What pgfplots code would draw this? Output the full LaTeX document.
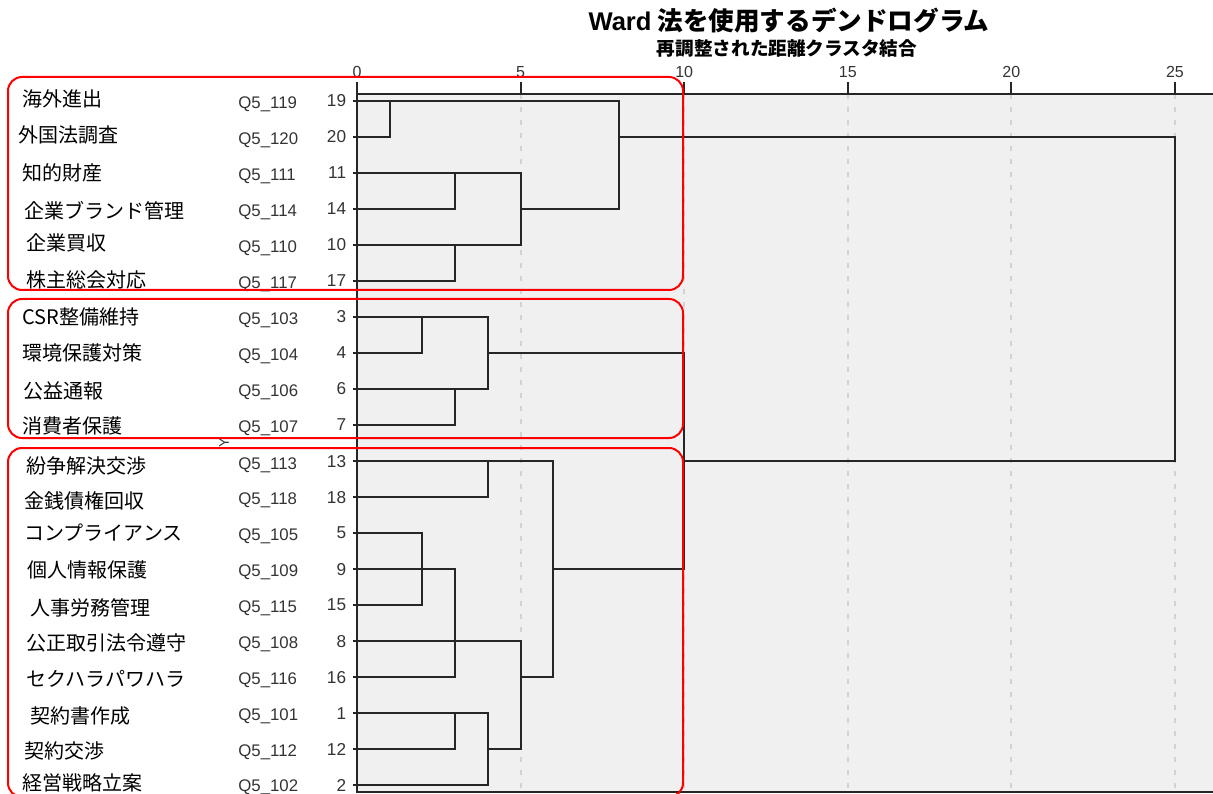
\documentclass[border=0pt]{standalone}
\usepackage{fontspec}
\setmainfont{Liberation Sans}
\newfontfamily\cjk{Noto Sans CJK JP}
\usepackage{pgfplots}
\pgfplotsset{compat=1.18}
\definecolor{bg}{HTML}{F0F0F0}
\definecolor{ln}{HTML}{262626}
\definecolor{gridc}{HTML}{D2D2D2}
\definecolor{txt}{HTML}{333333}
\begin{document}
\begin{tikzpicture}[x=0.5pt,y=0.5pt]
\useasboundingbox (0,0) rectangle (1213,793);
\clip (0,0) rectangle (1213,793);
\begin{axis}[
  at={(178.5pt,349.5pt)}, anchor=north west,
  scale only axis, width=441.7pt, height=349pt,
  xmin=0, xmax=27, ymin=-0.194, ymax=19.19, y dir=reverse,
  axis background/.style={fill=bg},
  axis line style={draw=ln, line width=0.9pt},
  xtick={0,5,...,25}, ytick={0,...,19},
  yticklabels={19,20,11,14,10,17,3,4,6,7,13,18,5,9,15,8,16,1,12,2},
  xtick pos=right, xticklabel pos=right, ytick pos=left,
  tick align=outside,
  xtick style={draw=ln, line width=0.9pt, /pgfplots/major tick length=6pt},
  ytick style={draw=ln, line width=0.8pt, /pgfplots/major tick length=2pt},
  xmajorgrids,
  major grid style={draw=gridc, dash pattern=on 2.5pt off 4pt, line width=1pt},
  /pgf/number format/assume math mode=true,
  xticklabel style={font=\fontsize{8}{9}\selectfont, text=txt, inner ysep=1pt, yshift=2.5pt},
  yticklabel style={font=\fontsize{8.6}{10}\selectfont, text=txt, inner xsep=1pt},
  dend/.style={draw=ln, line width=1pt, solid, mark=none},
]
\addplot[dend] coordinates {(0,0) (1,0) (1,1) (0,1)};
\addplot[dend] coordinates {(0,2) (3,2) (3,3) (0,3)};
\addplot[dend] coordinates {(0,4) (3,4) (3,5) (0,5)};
\addplot[dend] coordinates {(3,2) (5,2) (5,4) (3,4)};
\addplot[dend] coordinates {(1,0) (8,0) (8,3) (5,3)};
\addplot[dend] coordinates {(0,6) (2,6) (2,7) (0,7)};
\addplot[dend] coordinates {(0,8) (3,8) (3,9) (0,9)};
\addplot[dend] coordinates {(2,6) (4,6) (4,8) (3,8)};
\addplot[dend] coordinates {(0,10) (4,10) (4,11) (0,11)};
\addplot[dend] coordinates {(0,12) (2,12) (2,14) (0,14)};
\addplot[dend] coordinates {(0,13) (3,13) (3,16) (0,16)};
\addplot[dend] coordinates {(0,17) (3,17) (3,18) (0,18)};
\addplot[dend] coordinates {(3,17) (4,17) (4,19) (0,19)};
\addplot[dend] coordinates {(0,15) (5,15) (5,18) (4,18)};
\addplot[dend] coordinates {(4,10) (6,10) (6,16) (5,16)};
\addplot[dend] coordinates {(4,7) (10,7) (10,13) (6,13)};
\addplot[dend] coordinates {(8,1) (25,1) (25,10) (10,10)};
\end{axis}
% titles
\node[font=\cjk\bfseries\fontsize{12.8}{14}\selectfont, inner sep=0] at (789,772) {{\rmfamily\bfseries Ward} 法を使用するデンドログラム};
\node[font=\cjk\bfseries\fontsize{9.3}{11}\selectfont, inner sep=0] at (787,745) {再調整された距離クラスタ結合};
% row names
\begin{scope}[every node/.style={font=\cjk\fontsize{10}{12}\selectfont, anchor=west, inner sep=0}]
\node at (22,694) {海外進出};
\node at (18,658) {外国法調査};
\node at (22,620) {知的財産};
\node at (24,582) {企業ブランド管理};
\node at (26,550) {企業買収};
\node at (26,513) {株主総会対応};
\node at (22,476) {CSR整備維持};
\node at (22,440) {環境保護対策};
\node at (23,402) {公益通報};
\node at (22,367) {消費者保護};
\node at (26,327) {紛争解決交渉};
\node at (24,292) {金銭債権回収};
\node at (24,260) {コンプライアンス};
\node at (27,223) {個人情報保護};
\node at (30,185) {人事労務管理};
\node at (26,150) {公正取引法令遵守};
\node at (26,114) {セクハラパワハラ};
\node at (30,77) {契約書作成};
\node at (24,42) {契約交渉};
\node at (22,10) {経営戦略立案};
\end{scope}
\begin{scope}[every node/.style={font=\fontsize{8.4}{10}\selectfont, text=txt, anchor=west, inner sep=0}]
\node at (238,689) {Q5\_119};
\node at (238,653) {Q5\_120};
\node at (238,617) {Q5\_111};
\node at (238,581) {Q5\_114};
\node at (238,545) {Q5\_110};
\node at (238,509) {Q5\_117};
\node at (238,473) {Q5\_103};
\node at (238,437) {Q5\_104};
\node at (238,401) {Q5\_106};
\node at (238,365) {Q5\_107};
\node at (238,328) {Q5\_113};
\node at (238,293) {Q5\_118};
\node at (238,257) {Q5\_105};
\node at (238,221) {Q5\_109};
\node at (238,185) {Q5\_115};
\node at (238,149) {Q5\_108};
\node at (238,113) {Q5\_116};
\node at (238,77) {Q5\_101};
\node at (238,41) {Q5\_112};
\node at (238,6) {Q5\_102};
\end{scope}
\node[font=\fontsize{7}{8}\selectfont, text=txt, rotate=90, inner sep=0] at (224,350) {Y};
% red group boxes
\begin{scope}[draw=red, line width=1pt, rounded corners=7pt]
\draw (8,503) rectangle (683,716);
\draw (8,355) rectangle (683,494);
\draw (8,-4) rectangle (683,345);
\end{scope}
\end{tikzpicture}
\end{document}
